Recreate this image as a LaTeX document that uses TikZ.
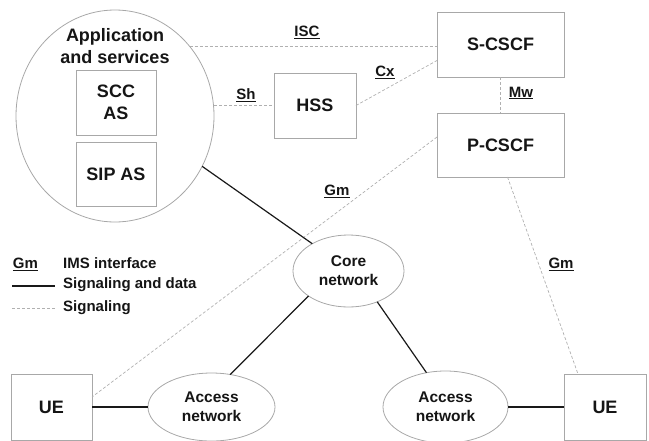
\documentclass[tikz,border=0pt]{standalone}
\usepackage{fontspec}
\setmainfont{Liberation Sans}
\usetikzlibrary{shapes.geometric,calc}
\definecolor{boxgray}{HTML}{A8A8A8}
\definecolor{siggray}{HTML}{B0B0B0}
\definecolor{txt}{HTML}{151515}
\begin{document}
\begin{tikzpicture}[x=1pt,y=-1pt,
 box/.style={draw=boxgray,line width=0.8pt,inner sep=0pt,outer sep=0pt,font=\fontsize{18}{22}\selectfont\bfseries,text=txt,align=center},
 ell/.style={ellipse,draw=boxgray,line width=0.8pt,inner sep=0pt,outer sep=0pt,font=\fontsize{15.5}{19}\selectfont\bfseries,text=txt,align=center},
 sig/.style={draw=siggray,dash pattern=on 3pt off 2pt,line width=0.7pt},
 dat/.style={draw=black!90,line width=1.2pt},
 lbl/.style={font=\fontsize{15}{18}\selectfont\bfseries,text=txt,inner sep=0pt}]
\useasboundingbox (0,0) rectangle (649,440);
% nodes
\node[ell, minimum width=198pt, minimum height=212pt] (app) at (115,116) {};
\node[box, draw=none] (apptitle) at (115,46) {Application\\and services};
\node[box, minimum width=80pt, minimum height=65pt] (scc) at (116,102.5) {SCC\\AS};
\node[box, minimum width=80pt, minimum height=64pt] (sip) at (116,174) {SIP AS};
\node[box, minimum width=82pt, minimum height=65pt] (hss) at (315,105.5) {HSS};
\node[box, minimum width=127pt, minimum height=65pt] (scscf) at (500.5,44.5) {S-CSCF};
\node[box, minimum width=127pt, minimum height=64pt] (pcscf) at (500.5,145) {P-CSCF};
\node[ell, minimum width=111pt, minimum height=72pt] (core) at (348.5,271) {Core\\network};
\node[ell, minimum width=127pt, minimum height=68pt] (accL) at (211.5,407) {Access\\network};
\node[ell, minimum width=125pt, minimum height=72pt] (accR) at (445.5,407) {Access\\network};
\node[box, minimum width=81pt, minimum height=66pt] (ueL) at (51.5,407) {UE};
\node[box, minimum width=82pt, minimum height=66pt] (ueR) at (605,407) {UE};
% signaling connectors
\draw[sig] (app.43) -- (app.43 -| scscf.west);
\node[lbl] (isc) at (307,32) {\underline{ISC}};
\draw[sig] (app.east |- hss.west) -- (hss.west);
\node[lbl] (sh) at (246,95) {\underline{Sh}};
\draw[sig] (hss.east) -- ([yshift=-16pt]scscf.west);
\node[lbl] (cx) at (385,72) {\underline{Cx}};
\draw[sig] (scscf.south) -- (pcscf.north);
\node[lbl] (mw) at (521,93) {\underline{Mw}};
\draw[sig] ([yshift=8pt]pcscf.west) -- ([yshift=10pt]ueL.east);
\node[lbl] (gm1) at (337,191) {\underline{Gm}};
\draw[sig] ([xshift=7pt]pcscf.south) -- ([xshift=-27pt]ueR.north);
\node[lbl] (gm2) at (561,264) {\underline{Gm}};
% data connectors
\draw[dat] (app.-30) -- (core.143);
\draw[dat] (core.212) -- (accL.60);
\draw[dat] (core.-47) -- (accR.119);
\draw[dat] (ueL) -- (accL);
\draw[dat] (accR) -- (ueR);
% legend
\node[lbl] (lgm) at (25.5,264) {\underline{Gm}};
\node[lbl,anchor=west] (lims) at (63,263) {IMS interface};
\coordinate (l1a) at (12,286);
\coordinate (l1b) at (55,286);
\draw[dat] (l1a) -- (l1b);
\node[lbl,anchor=west] (lsd) at (63,285) {Signaling and data};
\coordinate (l2a) at (12,308);
\coordinate (l2b) at (55,308);
\draw[sig] (l2a) -- (l2b);
\node[lbl,anchor=west] (lsig) at (63,308) {Signaling};
\end{tikzpicture}
\end{document}
